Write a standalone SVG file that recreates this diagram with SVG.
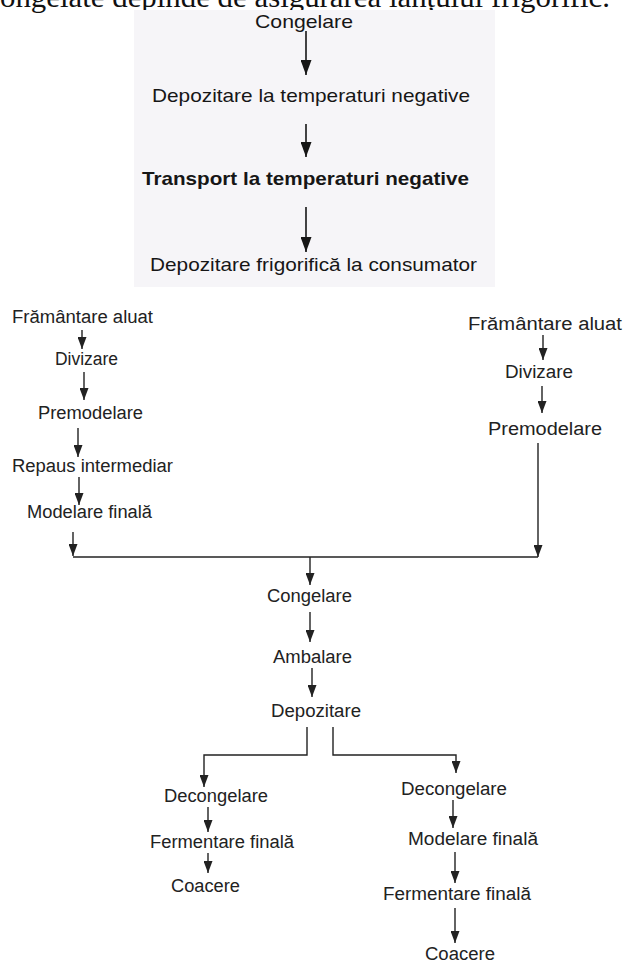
<svg xmlns="http://www.w3.org/2000/svg" width="626" height="963" viewBox="0 0 626 963">
<style>
.t{font-family:"Liberation Sans",Arial,sans-serif;font-size:19px;fill:#161616}
.b{font-weight:bold}
.s{font-family:"Liberation Sans",Arial,sans-serif;font-size:18px;fill:#222222}
.cap{font-family:"Liberation Serif","Times New Roman",serif;font-size:30px;fill:#111}
.ln{fill:none;stroke:#161616;stroke-width:1.6}
.ln2{fill:none;stroke:#222222;stroke-width:1.4}
</style>
<defs>
<marker id="ah2" markerUnits="userSpaceOnUse" markerWidth="9" markerHeight="13" refX="4.5" refY="12" orient="0" viewBox="0 0 9 13">
<path d="M0,0 L9,0 L4.5,12 Z" fill="#222222"/>
</marker>
<marker id="ahd" markerUnits="userSpaceOnUse" markerWidth="11" markerHeight="16" refX="5.5" refY="15" orient="0" viewBox="0 0 11 16">
<path d="M0,0 L11,0 L5.5,15 Z" fill="#161616"/>
</marker>
</defs>
<rect width="626" height="963" fill="#ffffff"/>
<text class="cap" x="0" y="7" textLength="610" lengthAdjust="spacingAndGlyphs">ongelate depinde de asigurarea lanțului frigorific.</text>
<rect x="134" y="10" width="361" height="277" fill="#f6f5f8"/>

<g id="connectors">
<line class="ln" x1="306" y1="31" x2="306" y2="75" marker-end="url(#ahd)"/>
<line class="ln" x1="306" y1="124" x2="306" y2="157" marker-end="url(#ahd)"/>
<line class="ln" x1="306" y1="207" x2="306" y2="252" marker-end="url(#ahd)"/>

<line class="ln2" x1="82" y1="330" x2="82" y2="349" marker-end="url(#ah2)"/>
<line class="ln2" x1="84" y1="372" x2="84" y2="400" marker-end="url(#ah2)"/>
<line class="ln2" x1="78" y1="428" x2="78" y2="457" marker-end="url(#ah2)"/>
<line class="ln2" x1="79" y1="477" x2="79" y2="505" marker-end="url(#ah2)"/>
<line class="ln2" x1="73" y1="532" x2="73" y2="556" marker-end="url(#ah2)"/>
<line class="ln2" x1="73" y1="557" x2="538" y2="557"/>
<line class="ln2" x1="543" y1="335" x2="543" y2="360" marker-end="url(#ah2)"/>
<line class="ln2" x1="542" y1="386" x2="542" y2="413" marker-end="url(#ah2)"/>
<line class="ln2" x1="538" y1="443" x2="538" y2="557" marker-end="url(#ah2)"/>
<line class="ln2" x1="310" y1="557" x2="310" y2="585" marker-end="url(#ah2)"/>
<line class="ln2" x1="310" y1="612" x2="310" y2="642" marker-end="url(#ah2)"/>
<line class="ln2" x1="312" y1="668" x2="312" y2="697" marker-end="url(#ah2)"/>
<path class="ln2" d="M307,727 V755 H204 V787" marker-end="url(#ah2)"/>
<path class="ln2" d="M333,727 V755 H456 V773" marker-end="url(#ah2)"/>
<line class="ln2" x1="208" y1="807" x2="208" y2="832" marker-end="url(#ah2)"/>
<line class="ln2" x1="208" y1="853" x2="208" y2="873" marker-end="url(#ah2)"/>
<line class="ln2" x1="453" y1="800" x2="453" y2="828" marker-end="url(#ah2)"/>
<line class="ln2" x1="455" y1="852" x2="455" y2="883" marker-end="url(#ah2)"/>
<line class="ln2" x1="455" y1="908" x2="455" y2="943" marker-end="url(#ah2)"/>
</g>

<g id="top-congelare"><text class="t" x="255" y="28" textLength="98" lengthAdjust="spacingAndGlyphs">Congelare</text></g>
<g id="top-depozitare"><text class="t" x="152" y="102" textLength="318" lengthAdjust="spacingAndGlyphs">Depozitare la temperaturi negative</text></g>
<g id="top-transport"><text class="t b" x="142" y="185" textLength="327" lengthAdjust="spacingAndGlyphs">Transport la temperaturi negative</text></g>
<g id="top-consumator"><text class="t" x="150" y="271" textLength="327" lengthAdjust="spacingAndGlyphs">Depozitare frigorifică la consumator</text></g>

<g id="l-framantare"><text class="s" x="12" y="323" textLength="141" lengthAdjust="spacingAndGlyphs">Frământare aluat</text></g>
<g id="l-divizare"><text class="s" x="55" y="365" textLength="63" lengthAdjust="spacingAndGlyphs">Divizare</text></g>
<g id="l-premodelare"><text class="s" x="38" y="419" textLength="105" lengthAdjust="spacingAndGlyphs">Premodelare</text></g>
<g id="l-repaus"><text class="s" x="12" y="472" textLength="161" lengthAdjust="spacingAndGlyphs">Repaus intermediar</text></g>
<g id="l-modelare"><text class="s" x="27" y="518" textLength="125" lengthAdjust="spacingAndGlyphs">Modelare finală</text></g>

<g id="r-framantare"><text class="s" x="468" y="330" textLength="154" lengthAdjust="spacingAndGlyphs">Frământare aluat</text></g>
<g id="r-divizare"><text class="s" x="505" y="378" textLength="68" lengthAdjust="spacingAndGlyphs">Divizare</text></g>
<g id="r-premodelare"><text class="s" x="488" y="435" textLength="114" lengthAdjust="spacingAndGlyphs">Premodelare</text></g>

<g id="c-congelare"><text class="s" x="267" y="602" textLength="85" lengthAdjust="spacingAndGlyphs">Congelare</text></g>
<g id="c-ambalare"><text class="s" x="273" y="663" textLength="79" lengthAdjust="spacingAndGlyphs">Ambalare</text></g>
<g id="c-depozitare"><text class="s" x="271" y="717" textLength="90" lengthAdjust="spacingAndGlyphs">Depozitare</text></g>

<g id="ll-decongelare"><text class="s" x="164" y="802" textLength="104" lengthAdjust="spacingAndGlyphs">Decongelare</text></g>
<g id="ll-fermentare"><text class="s" x="150" y="848" textLength="144" lengthAdjust="spacingAndGlyphs">Fermentare finală</text></g>
<g id="ll-coacere"><text class="s" x="171" y="892" textLength="69" lengthAdjust="spacingAndGlyphs">Coacere</text></g>

<g id="rr-decongelare"><text class="s" x="401" y="795" textLength="106" lengthAdjust="spacingAndGlyphs">Decongelare</text></g>
<g id="rr-modelare"><text class="s" x="408" y="845" textLength="130" lengthAdjust="spacingAndGlyphs">Modelare finală</text></g>
<g id="rr-fermentare"><text class="s" x="383" y="900" textLength="148" lengthAdjust="spacingAndGlyphs">Fermentare finală</text></g>
<g id="rr-coacere"><text class="s" x="425" y="960" textLength="70" lengthAdjust="spacingAndGlyphs">Coacere</text></g>
</svg>
